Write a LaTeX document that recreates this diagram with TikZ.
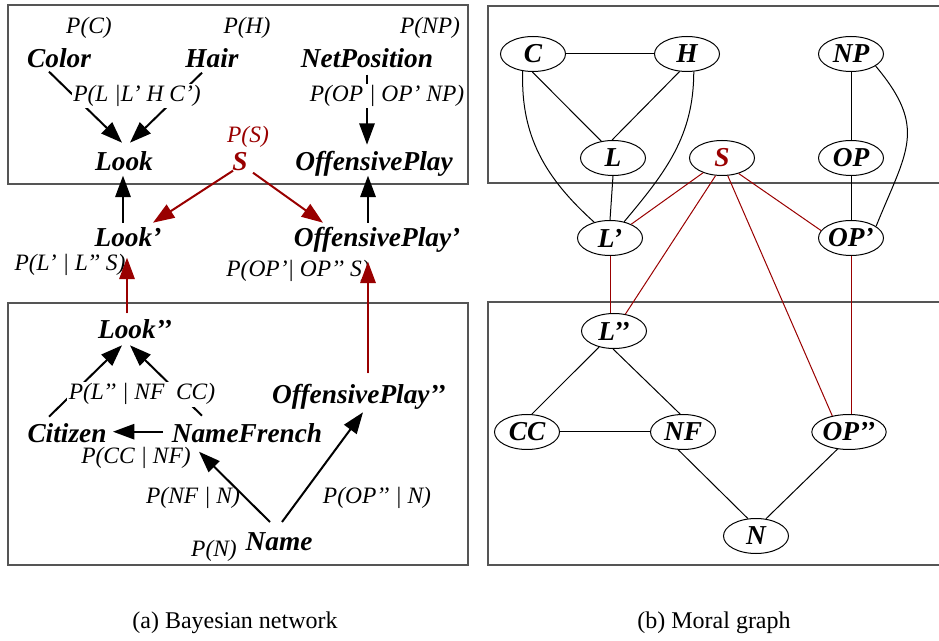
\documentclass[tikz,border=0pt]{standalone}
\usepackage{fontspec}
\setmainfont{Liberation Serif}
\usetikzlibrary{arrows.meta,shapes.geometric,calc}
\definecolor{darkred}{RGB}{153,0,0}
\definecolor{framegray}{RGB}{85,85,85}

\begin{document}
\begin{tikzpicture}[x=0.75pt,y=-0.75pt,
  var/.style={font=\fontsize{20.5}{24}\selectfont\bfseries\itshape, anchor=base, inner sep=0pt},
  prob/.style={font=\fontsize{17.6}{21}\selectfont\itshape, anchor=base, inner sep=0pt},
  probmask/.style={prob, fill=white, inner sep=1.2pt},
  captxt/.style={font=\fontsize{18}{22}\selectfont, anchor=base, inner sep=0pt},
  bnarrow/.style={line width=1.5pt, -{Triangle[length=16pt,width=11.5pt]}},
  redarrow/.style={bnarrow, draw=darkred, fill=darkred},
  frame/.style={draw=framegray, line width=1pt},
  mnode/.style={ellipse, draw, line width=0.75pt, minimum width=48.75pt, minimum height=26.25pt,
                inner sep=0pt, font=\fontsize{20.5}{24}\selectfont\bfseries\itshape},
  medge/.style={line width=0.75pt},
  redge/.style={medge, draw=darkred}
]
\useasboundingbox (0,0) rectangle (939,641);

% ---------- frames ----------
\draw[frame] (8,5) rectangle (468,184);
\draw[frame] (8,303) rectangle (468,565);
\draw[frame] (945,6) -- (488,6) -- (488,183) -- (945,183);
\draw[frame] (945,302) -- (488,302) -- (488,565) -- (945,565);

% ---------- (a) Bayesian network ----------
\node[prob] (pC) at (89,34) {P(C)};
\node[prob] (pH) at (247,34) {P(H)};
\node[prob] (pNP) at (430,34) {P(NP)};
\node[var] (Color) at (59,67.7) {Color};
\node[var] (Hair) at (212,67.7) {Hair};
\node[var] (NetPos) at (367,67.7) {NetPosition};
\node[prob,text=darkred] (pS) at (248,142.7) {P(S)};
\node[var] (Look) at (124,170.7) {Look};
\node[var,text=darkred] (S) at (240,170.7) {S};
\node[var] (OffPlay) at (374,170.7) {OffensivePlay};
\node[var] (LookP) at (128,246.7) {Look’};
\node[var] (OffPlayP) at (377,246.7) {OffensivePlay’};
\node[prob] (pLp) at (70,270.7) {P(L’ | L’’ S)};
\node[prob] (pOPp) at (298,276.7) {P(OP’| OP’’ S)};
\node[var] (LookPP) at (135,338.3) {Look’’};
\node[var] (OffPlayPP) at (359,403.3) {OffensivePlay’’};
\node[var] (Citizen) at (67,442.7) {Citizen};
\node[var] (NameFr) at (247,442.7) {NameFrench};
\node[prob] (pCC) at (136,463.3) {P(CC | NF)};
\node[prob] (pNF) at (193,503.3) {P(NF | N)};
\node[prob] (pOPpp) at (377,503.3) {P(OP’’ | N)};
\node[var] (Name) at (279,550) {Name};
\node[prob] (pN) at (214,556.7) {P(N)};

% arrows of the network
\draw[bnarrow] ($(Color.base)+(-10,4)$) -- ($(Look.base)+(-2,-28)$);
\draw[bnarrow] ($(Hair.base)+(-10,5)$) -- ($(Look.base)+(6,-28)$);
\draw[bnarrow] ($(NetPos.base)+(0,7)$) -- ($(OffPlay.base)+(-7,-26)$);
\draw[bnarrow] ($(LookP.base)+(-5,-24)$) -- ($(Look.base)+(-1,5)$);
\draw[bnarrow] ($(OffPlayP.base)+(-9,-24)$) -- ($(OffPlay.base)+(-6,5)$);
\draw[redarrow] ($(S.base)+(-7,0)$) -- ($(LookP.base)+(25,-24)$);
\draw[redarrow] ($(S.base)+(13,2)$) -- ($(OffPlayP.base)+(-54,-24)$);
\draw[redarrow] ($(LookPP.base)+(-8,-25)$) -- ($(LookP.base)+(-1,11)$);
\draw[redarrow] ($(OffPlayPP.base)+(9,-30)$) -- ($(OffPlayP.base)+(-9,15)$);
\draw[bnarrow] ($(Citizen.base)+(-18,-26)$) -- ($(LookPP.base)+(-13,7)$);
\draw[bnarrow] ($(NameFr.base)+(-45,-27)$) -- ($(LookPP.base)+(-5,7)$);
\draw[bnarrow] ($(NameFr.base)+(-84,-11)$) -- ($(Citizen.base)+(46,-11)$);
\draw[bnarrow] ($(Name.base)+(-9,-28)$) -- ($(NameFr.base)+(-48,9)$);
\draw[bnarrow] ($(Name.base)+(3,-28)$) -- ($(OffPlayPP.base)+(4,9)$);

% conditional tables set over the arrows they interrupt
\node[probmask] (pL) at (137,101.7) {P(L |L’ H C’)};
\node[probmask] (pOP) at (387,101.7) {P(OP | OP’ NP)};
\node[probmask] (pLpp) at (142,400) {P(L’’ | NF \ CC)};

% ---------- (b) Moral graph ----------
\node[mnode] (C) at (533,54) {C};
\node[mnode] (H) at (687,54) {H};
\node[mnode] (NP) at (851,54) {NP};
\node[mnode] (L) at (613,158) {L};
\node[mnode,text=darkred] (S2) at (722,158) {S};
\node[mnode] (OP) at (851,158) {OP};
\node[mnode] (Lp) at (610,238) {L’};
\node[mnode] (OPp) at (851,238) {OP’};
\node[mnode] (Lpp) at (614,331) {L’’};
\node[mnode] (CC) at (527,432) {CC};
\node[mnode] (NF) at (683,432) {NF};
\node[mnode] (OPpp) at (849,432) {OP’’};
\node[mnode] (N) at (756,536) {N};

\draw[medge] (C.east) -- (H.west);
\draw[medge] (C.-92) -- (L.125);
\draw[medge] (H.-113) -- (L.93);
\draw[medge] (C.-121) to[out=-92,in=138] (Lp.135);
\draw[medge] (H.-69) to[out=-90,in=50] (Lp.49);
\draw[medge] (L.south) -- (Lp.north);
\draw[medge] (NP.south) -- (OP.north);
\draw[medge] (OP.south) -- (OPp.north);
\draw[medge] (NP.-26) to[out=-50,in=68,looseness=1.3] (OPp.25);
\draw[redge] (S2.-142) -- (Lp.33);
\draw[redge] (S2.-110) -- (Lpp.56);
\draw[redge] (S2.-72) -- (OPpp.136);
\draw[redge] (S2.-43) -- (OPp.166);
\draw[redge] (Lp.south) -- (Lp.south |- Lpp.north);
\draw[redge] (OPp.south) -- (OPp.south |- OPpp.north);
\draw[medge] (Lpp.-133) -- (CC.75);
\draw[medge] (Lpp.-93) -- (NF.99);
\draw[medge] (CC.east) -- (NF.west);
\draw[medge] (NF.-105) -- (N.115);
\draw[medge] (OPpp.-124) -- (N.60);

% ---------- captions ----------
\node[captxt] (capA) at (235,628) {(a) Bayesian network};
\node[captxt] (capB) at (714,628) {(b) Moral graph};
\end{tikzpicture}
\end{document}
